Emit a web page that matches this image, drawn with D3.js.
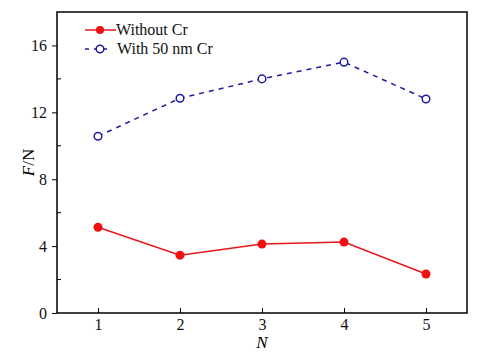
<!DOCTYPE html>
<html>
<head>
<meta charset="utf-8">
<script src="https://cdn.jsdelivr.net/npm/d3@7"></script>
<style>
  body { margin: 0; background: #fff; }
</style>
</head>
<body>
<div class="canvas"></div>
<script>
// data
const nValues = [1, 2, 3, 4, 5];
const withoutCr = [5.13, 3.46, 4.12, 4.24, 2.33];
const with50Cr = [10.57, 12.84, 14.0, 15.0, 12.8];
const yTicks = [0, 4, 8, 12, 16];
const yMinor = [2, 6, 10, 14];

const serif = '"Liberation Serif", "DejaVu Serif", serif';
const W = 481, H = 358;
const m = {left: 57, right: 14, top: 12, bottom: 45};

const svg = d3.select('.canvas').append('svg')
  .attr('width', W)
  .attr('height', H)
  .style('font-family', serif);

const x = d3.scaleLinear().domain([0.5, 5.5]).range([m.left, W - m.right]);
const y = d3.scaleLinear().domain([0, 18]).range([H - m.bottom, m.top]);

// frame
svg.append('rect')
  .attr('x', m.left).attr('y', m.top)
  .attr('width', W - m.left - m.right)
  .attr('height', H - m.top - m.bottom)
  .attr('fill', 'none')
  .attr('stroke', '#000')
  .attr('stroke-width', 1.5);

// y axis, major ticks outward
const yAxis = svg.append('g')
  .attr('transform', `translate(${m.left},0)`)
  .call(d3.axisLeft(y).tickValues(yTicks).tickSize(5).tickPadding(5));
yAxis.attr('font-family', serif).attr('font-size', 16);
yAxis.select('.domain').remove();
yAxis.selectAll('text').attr('fill', '#111');

// minor ticks inward
svg.append('g').selectAll('line')
  .data(yMinor)
  .join('line')
  .attr('x1', m.left).attr('x2', m.left + 4)
  .attr('y1', d => y(d)).attr('y2', d => y(d))
  .attr('stroke', '#000');

// x axis, ticks inward
const xAxis = svg.append('g')
  .attr('transform', `translate(0,${H - m.bottom})`)
  .call(d3.axisBottom(x).tickValues(nValues).tickSize(-5).tickPadding(6).tickFormat(d3.format('d')));
xAxis.attr('font-family', serif).attr('font-size', 16);
xAxis.select('.domain').remove();
xAxis.selectAll('text').attr('fill', '#111');

// axis labels
svg.append('text')
  .attr('x', x(3)).attr('y', 348)
  .attr('text-anchor', 'middle')
  .style('font-size', '17px')
  .style('font-style', 'italic')
  .text('N');

const yl = svg.append('text')
  .attr('transform', `translate(34,${y(9)}) rotate(-90)`)
  .attr('text-anchor', 'middle')
  .style('font-size', '17px');
yl.append('tspan').style('font-style', 'italic').text('F');
yl.append('tspan').text('/N');

const line = d3.line().x((d, i) => x(nValues[i])).y(d => y(d));

// red series
svg.append('path')
  .datum(withoutCr)
  .attr('d', line)
  .attr('fill', 'none')
  .attr('stroke', '#e8151b')
  .attr('stroke-width', 1.5);
svg.append('g').selectAll('circle')
  .data(withoutCr)
  .join('circle')
  .attr('cx', (d, i) => x(nValues[i]))
  .attr('cy', d => y(d))
  .attr('r', 4.5)
  .attr('fill', '#f01010');

// blue series
svg.append('path')
  .datum(with50Cr)
  .attr('d', line)
  .attr('fill', 'none')
  .attr('stroke', '#1c1c9c')
  .attr('stroke-width', 1.5)
  .attr('stroke-dasharray', '5,5');
svg.append('g').selectAll('circle')
  .data(with50Cr)
  .join('circle')
  .attr('cx', (d, i) => x(nValues[i]))
  .attr('cy', d => y(d))
  .attr('r', 3.8)
  .attr('fill', '#fff')
  .attr('stroke', '#1c1c9c')
  .attr('stroke-width', 1.5);

// legend
const lg = svg.append('g');
lg.append('line')
  .attr('x1', 85).attr('x2', 116).attr('y1', 30).attr('y2', 30)
  .attr('stroke', '#e8151b').attr('stroke-width', 1.5);
lg.append('circle')
  .attr('cx', 100).attr('cy', 30).attr('r', 4)
  .attr('fill', '#f01010');
lg.append('text')
  .attr('x', 116).attr('y', 35)
  .style('font-size', '16px')
  .attr('fill', '#111')
  .text('Without Cr');

lg.append('line')
  .attr('x1', 85).attr('x2', 108).attr('y1', 49).attr('y2', 49)
  .attr('stroke', '#1c1c9c').attr('stroke-width', 1.5)
  .attr('stroke-dasharray', '4,5');
lg.append('circle')
  .attr('cx', 100).attr('cy', 49).attr('r', 3.8)
  .attr('fill', '#fff')
  .attr('stroke', '#1c1c9c').attr('stroke-width', 1.5);
lg.append('text')
  .attr('x', 117).attr('y', 54)
  .style('font-size', '16px')
  .attr('fill', '#111')
  .text('With 50 nm Cr');
</script>
</body>
</html>
